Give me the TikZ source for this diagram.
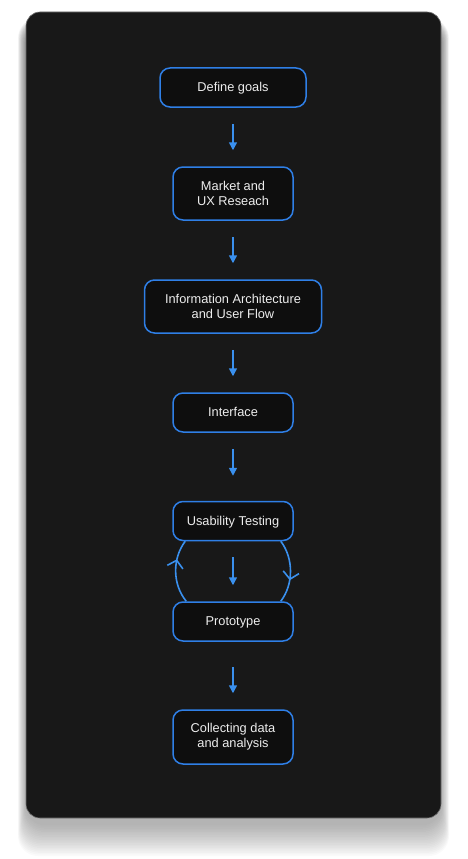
\documentclass[tikz,border=0pt]{standalone}
\usepackage{fontspec}
\setmainfont{Liberation Sans}
\usetikzlibrary{arrows.meta,decorations.markings}
\definecolor{panel}{HTML}{181818}
\definecolor{boxfill}{HTML}{0E0E0E}
\definecolor{boxline}{HTML}{2F7FE6}
\definecolor{flow}{HTML}{3A90EE}
\definecolor{labeltext}{HTML}{EDEDED}
\definecolor{shade}{HTML}{7E8499}

\begin{document}
\begin{tikzpicture}[x=1pt,y=-1pt,
  panelbox/.style={fill=panel, draw=black!55, line width=0.6pt, rounded corners=14pt},
  stage/.style={draw=boxline, line width=1.5pt, fill=boxfill, rounded corners=10pt, text=labeltext,
    font=\fontsize{12.8}{15}\selectfont, align=center, minimum width=120pt, minimum height=39pt, inner sep=2pt},
  oneline/.style={stage, text height=8.6pt, text depth=0pt},
  flowarrow/.style={-{Triangle[length=8pt,width=8pt,fill=flow]}, line width=1.5pt, draw=flow, shorten <=16pt, shorten >=16pt},
  cyclearc/.style={line width=1.6pt, color=flow, postaction={decorate},
    decoration={markings, mark=at position #1 with {\arrow{Straight Barb[length=7pt,width=16pt,line width=1.6pt]}}}},
  cyclearc/.default=0.7
]
\useasboundingbox (0,0) rectangle (467,859);
% soft shadow under the panel
\foreach \s in {1,2,...,20}
  \fill[shade, opacity=0.02, rounded corners=20pt] (26-0.4*\s,24-0.3*\s) rectangle (441+0.4*\s,824+1.6*\s);
\path[panelbox] (26,12) rectangle (441,818);

\node[oneline, minimum width=146pt] (goals) at (233,87.5) {Define goals};
\node[stage, minimum height=53pt] (research) at (233,193.5) {Market and\\UX Reseach};
\node[stage, minimum width=177pt, minimum height=53pt] (ia) at (233,306.5) {Information Architecture\\and User Flow};
\node[oneline] (interface) at (233,412.5) {Interface};
\node[oneline] (testing) at (233,521) {Usability Testing};
\node[oneline] (proto) at (233,621.5) {Prototype};
\node[stage, minimum height=54pt] (analysis) at (233,737) {Collecting data\\and analysis};

\path [flowarrow] (goals) edge (research);
\path [flowarrow] (research) edge (ia);
\path [flowarrow] (ia) edge (interface);
\path [flowarrow, shorten >=25pt] (interface) edge (testing);
\path [flowarrow] (testing) edge (proto);
\path [flowarrow, shorten <=25pt] (proto) edge (analysis);

% test / prototype cycle
\draw[cyclearc=0.69] ([xshift=14pt]proto.north west) .. controls ([yshift=17pt]proto.north west) and ([yshift=-17pt]testing.south west) .. ([xshift=13pt]testing.south west);
\draw[cyclearc=0.64] ([xshift=-13pt]testing.south east) .. controls ([yshift=-17pt]testing.south east) and ([yshift=17pt]proto.north east) .. ([xshift=-13pt]proto.north east);
\end{tikzpicture}
\end{document}
